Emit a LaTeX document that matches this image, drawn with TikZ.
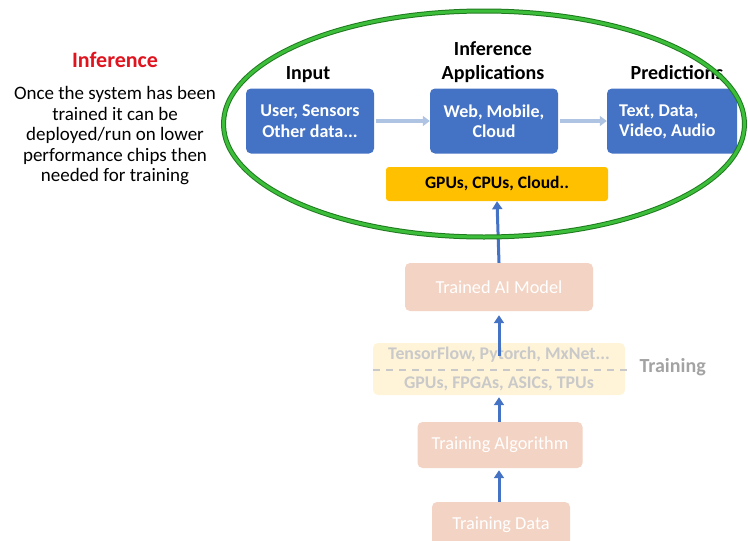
\documentclass[tikz,border=0pt]{standalone}
\usepackage{fontspec}
\setmainfont{Carlito}
\usetikzlibrary{arrows.meta,shapes.geometric}
\definecolor{boxblue}{HTML}{4472C4}
\definecolor{lightarrow}{HTML}{AFC3E2}
\definecolor{gold}{HTML}{FFC000}
\definecolor{salmon}{HTML}{F3D3C3}
\definecolor{paleyellow}{HTML}{FFF4D8}
\definecolor{palegrey}{HTML}{C9C9C9}
\definecolor{midgrey}{HTML}{A3A3A3}
\definecolor{ringgreen}{HTML}{3DBE3A}
\definecolor{ringdark}{HTML}{1F7A1F}
\definecolor{redtitle}{HTML}{E0141E}
\tikzset{
  x=1pt,y=-1pt,
  bluebox/.style={fill=boxblue,rounded corners=5pt,text=white,font=\bfseries\fontsize{18}{20.5}\selectfont,align=center,inner sep=0pt},
  salmonbox/.style={fill=salmon,rounded corners=5pt,text=white,font=\fontsize{18.3}{20}\selectfont,align=center,inner sep=0pt},
  header/.style={font=\bfseries\fontsize{20}{24.5}\selectfont,align=center},
  softarrow/.style={lightarrow,line width=3.5pt,-{Triangle[length=7pt,width=10pt]}},
  mainarrow/.style={boxblue,line width=3pt,-{Triangle[length=8pt,width=10pt]}},
}
\begin{document}
\begin{tikzpicture}
\useasboundingbox (0,0) rectangle (748,541);
% left text
\node[font=\bfseries\fontsize{22}{24}\selectfont,text=redtitle] (title) at (115,60) {Inference};
\node[font=\fontsize{19}{20.5}\selectfont,align=center] (desc) at (115,136) {Once the system has been\\trained it can be\\deployed/run on lower\\performance chips then\\needed for training};
% headers
\node[header] (hin) at (308,75) {Input};
\node[header] (happ) at (493,62) {Inference\\Applications};
\node[header] (hpred) at (677,73) {Predictions};
% blue boxes
\node[bluebox,minimum width=128pt,minimum height=65pt] (inp) at (310,121) {User, Sensors\\Other data...};
\node[bluebox,minimum width=128pt,minimum height=65pt] (app) at (494,121) {Web, Mobile,\\Cloud};
\node[bluebox,minimum width=130pt,minimum height=65pt] (pred) at (672,121) {};
\node[font=\bfseries\fontsize{18}{20.5}\selectfont,text=white,align=left,anchor=west,inner sep=0pt] (predtxt) at (619,122) {Text, Data,\\Video, Audio};
\draw[softarrow] (inp.east) ++(2,0) coordinate (a1) -- (app.west);
\draw[softarrow] (app.east) ++(2,0) coordinate (a2) -- (pred.west);
% gold box
\node[fill=gold,rounded corners=3pt,minimum width=222pt,minimum height=34pt,font=\bfseries\fontsize{17.5}{19}\selectfont] (gpu) at (497,184) {GPUs, CPUs, Cloud..};
% training part
\node[salmonbox,minimum width=188pt,minimum height=48pt] (model) at (499,287) {Trained AI Model};
\node[fill=paleyellow,rounded corners=5pt,minimum width=252pt,minimum height=52pt] (fw) at (499,369) {};
\node[font=\bfseries\fontsize{17.8}{19}\selectfont,text=palegrey] (fw1) at (499,355) {TensorFlow, Pytorch, MxNet...};
\node[font=\bfseries\fontsize{17.8}{19}\selectfont,text=palegrey] (fw2) at (499,384) {GPUs, FPGAs, ASICs, TPUs};
\coordinate (dl) at (373,370);
\coordinate (dr) at (627,370);
\draw[palegrey,line width=1.5pt,dash pattern=on 7pt off 6pt] (dl) -- (dr);
\node[font=\bfseries\fontsize{20}{22}\selectfont,text=midgrey,anchor=west] (train) at (636,367) {Training};
\node[salmonbox,minimum width=165pt,minimum height=46pt] (alg) at (500,445) {Training Algorithm};
\node[salmonbox,minimum width=138pt,minimum height=46pt] (data) at (501,525) {Training Data};
% blue arrows
\draw[mainarrow] (model.north) -- (gpu.south);
\draw[mainarrow] ([yshift=-1pt]fw.north -| model.south) ++(0,12) coordinate (t1) -- ([yshift=-4pt]model.south);
\draw[mainarrow] (alg.north -| model.south) coordinate (t2) -- ([yshift=-2pt]fw.south -| model.south);
\draw[mainarrow] (data.north -| model.south) coordinate (t3) -- ([yshift=-2pt]alg.south -| model.south);
% green ring
\node[draw=ringdark,line width=5pt,ellipse,minimum width=521pt,minimum height=226pt,inner sep=0pt] (ring) at (484,124) {};
\node[draw=ringgreen,line width=3pt,ellipse,minimum width=521pt,minimum height=226pt,inner sep=0pt] (ring2) at (484,124) {};
\end{tikzpicture}
\end{document}
